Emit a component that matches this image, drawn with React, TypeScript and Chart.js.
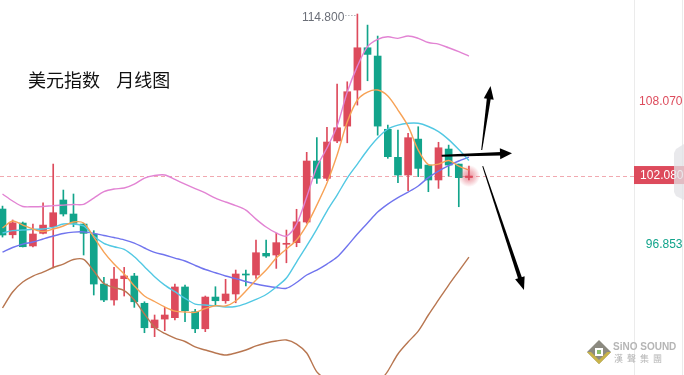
import React, { useEffect, useRef } from "react";
import { Chart, registerables } from "chart.js";

Chart.register(...registerables);

// ---- data (DXY monthly) ----
const months = [
  "2019-10", "2019-11", "2019-12", "2020-01", "2020-02", "2020-03", "2020-04", "2020-05", "2020-06", "2020-07",
  "2020-08", "2020-09", "2020-10", "2020-11", "2020-12", "2021-01", "2021-02", "2021-03", "2021-04", "2021-05",
  "2021-06", "2021-07", "2021-08", "2021-09", "2021-10", "2021-11", "2021-12", "2022-01", "2022-02", "2022-03",
  "2022-04", "2022-05", "2022-06", "2022-07", "2022-08", "2022-09", "2022-10", "2022-11", "2022-12", "2023-01",
  "2023-02", "2023-03", "2023-04", "2023-05", "2023-06", "2023-07", "2023-08",
];
const opens = [
  99.49, 97.47, 98.39, 96.59, 97.58, 98.1, 100.2, 99.1, 98.31, 97.53,
  93.6, 92.35, 94.02, 94.23, 92.09, 90.17, 90.85, 90.96, 93.37, 91.43,
  90.09, 92.58, 92.29, 92.82, 94.39, 94.31, 96.01, 95.88, 96.72, 96.85,
  98.47, 103.26, 101.9, 104.83, 106.0, 108.83, 112.15, 111.5, 105.75, 103.55,
  102.16, 104.98, 102.94, 101.77, 104.2, 103.02, 101.96,
];
const highs = [
  99.72, 98.63, 98.47, 98.31, 99.98, 103.02, 100.98, 100.67, 98.37, 97.79,
  94.13, 94.91, 94.91, 94.44, 92.21, 91.17, 91.77, 93.6, 93.52, 91.62,
  92.66, 93.39, 93.97, 94.7, 94.7, 97.06, 97.06, 97.58, 97.84, 99.47,
  103.94, 105.09, 105.9, 109.3, 109.48, 114.8, 113.93, 113.07, 106.08, 105.69,
  105.43, 105.95, 102.94, 104.73, 104.51, 103.02, 102.87,
];
const lows = [
  97.29, 97.21, 96.51, 96.51, 97.53, 94.86, 98.94, 98.1, 95.88, 92.74,
  92.21, 91.95, 92.66, 91.77, 89.78, 89.47, 89.94, 90.78, 90.64, 89.78,
  89.86, 91.95, 92.09, 92.13, 93.45, 94.05, 95.7, 94.83, 95.27, 96.53,
  98.37, 101.51, 101.71, 104.69, 104.69, 107.65, 109.56, 105.29, 103.47, 101.55,
  100.93, 102.03, 100.85, 101.11, 102.08, 99.67, 101.77,
];
const closes = [
  97.45, 98.41, 96.53, 97.53, 98.23, 99.2, 99.1, 98.37, 97.58, 93.6,
  92.35, 93.99, 94.23, 92.21, 90.17, 90.78, 91.17, 93.37, 91.51, 90.09,
  92.58, 92.29, 92.82, 94.39, 94.31, 96.06, 95.8, 96.85, 96.8, 98.49,
  103.26, 101.9, 104.75, 105.87, 108.7, 112.15, 111.63, 106.0, 103.6, 102.16,
  105.09, 102.68, 101.77, 104.3, 102.94, 101.95, 102.08,
];
const ma5 = [
  98.0, 98.55, 98.23, 97.92, 97.72, 97.92, 98.16, 98.47, 98.39, 97.29,
  96.11, 95.17, 94.39, 93.45, 92.66, 92.23, 91.8, 91.48, 91.41, 91.38,
  91.68, 91.9, 91.88, 92.27, 93.05, 93.92, 94.7, 95.64, 96.35, 97.06,
  98.23, 99.8, 101.53, 103.73, 106.32, 108.05, 108.67, 108.83, 108.36, 107.26,
  106.0, 104.12, 102.98, 103.02, 103.3, 102.86, 102.55,
];
const ma10 = [
  97.61, 97.79, 97.84, 97.9, 97.92, 98.05, 98.31, 98.31, 98.16, 97.37,
  96.8, 96.53, 96.33, 95.75, 94.96, 94.18, 93.52, 93.0, 92.48, 92.03,
  91.95, 91.9, 91.8, 91.84, 92.07, 92.39, 92.78, 93.37, 94.07, 95.33,
  96.59, 97.92, 99.33, 100.59, 101.92, 103.02, 104.12, 105.06, 105.77, 106.08,
  106.22, 106.22, 105.97, 105.57, 104.94, 104.16, 103.3,
];
const ma20 = [
  96.11, 96.47, 96.74, 96.9, 97.14, 97.37, 97.57, 97.68, 97.7, 97.58,
  97.41, 97.25, 97.07, 96.82, 96.43, 96.08, 95.88, 95.64, 95.41, 95.06,
  94.74, 94.49, 94.23, 94.03, 93.8, 93.6, 93.45, 93.33, 93.27, 93.72,
  94.31, 94.7, 95.17, 95.72, 96.59, 97.53, 98.39, 99.25, 99.88, 100.39,
  100.82, 101.3, 101.96, 102.47, 102.9, 103.26, 103.57,
];
const bollUpper = [
  100.67, 100.12, 99.69, 99.67, 99.69, 99.76, 99.8, 99.84, 99.86, 100.35,
  100.85, 101.06, 101.14, 101.45, 101.92, 102.12, 102.16, 101.81, 101.45, 101.1,
  100.75, 100.35, 100.04, 99.76, 99.41, 98.7, 98.08, 97.61, 97.37, 98.31,
  100.43, 102.79, 104.28, 106.0, 108.67, 110.71, 112.24, 112.81, 113.01, 112.89,
  113.07, 112.89, 112.56, 112.44, 112.15, 111.84, 111.5,
];
const bollLower = [
  91.72, 92.98, 93.76, 94.23, 94.54, 94.9, 95.17, 95.53, 95.54, 94.62,
  93.64, 93.33, 93.09, 92.35, 91.25, 90.23, 89.72, 89.36, 89.09, 88.66,
  88.42, 88.19, 88.03, 88.19, 88.42, 88.74, 88.97, 89.13, 89.21, 88.89,
  88.19, 86.7, 86.07, 85.6, 84.5, 84.34, 84.58, 85.68, 86.77, 88.11,
  89.05, 89.91, 91.17, 92.35, 93.52, 94.62, 95.72,
];
const axisLabels = [108.07, 102.08, 96.853];
const lastPrice = 102.08;
const titleText = "美元指数    月线图";
// arrows in data space: [fromIndex, fromPrice, toIndex, toPrice]
const arrowUp = [47.26, 104.12, 48.13, 109.14];
const arrowRight = [43.31, 103.67, 50.25, 103.86];
const arrowDown = [47.36, 102.86, 51.43, 93.13];

const UP = "#dd4b5c";
const DOWN = "#12a48b";

function drawArrow(ctx: CanvasRenderingContext2D, x1: number, y1: number, x2: number, y2: number, w0: number, w1: number, headLen: number, headHalf: number) {
  const dx = x2 - x1, dy = y2 - y1;
  const len = Math.hypot(dx, dy);
  const ang = Math.atan2(dy, dx);
  ctx.save();
  ctx.translate(x1, y1);
  ctx.rotate(ang);
  ctx.fillStyle = "#000";
  const se = len - headLen + 1;
  ctx.beginPath();
  ctx.moveTo(0, -w0 / 2);
  ctx.lineTo(se, -w1 / 2);
  ctx.lineTo(se, w1 / 2);
  ctx.lineTo(0, w0 / 2);
  ctx.closePath();
  ctx.fill();
  ctx.beginPath();
  ctx.moveTo(len - headLen, -headHalf);
  ctx.lineTo(len, 0);
  ctx.lineTo(len - headLen, headHalf);
  ctx.closePath();
  ctx.fill();
  ctx.restore();
}

const overlay = {
  id: "overlay",
  beforeDatasetsDraw(chart: any) {
    const { ctx, chartArea } = chart;
    const ys = chart.scales.y;
    const py = Math.round(ys.getPixelForValue(lastPrice)) + 0.5;
    ctx.save();
    ctx.strokeStyle = "rgba(236,140,150,0.75)";
    ctx.lineWidth = 1;
    ctx.setLineDash([4, 3]);
    ctx.beginPath();
    ctx.moveTo(chartArea.left, py);
    ctx.lineTo(chartArea.right, py);
    ctx.stroke();
    ctx.restore();
  },
  afterDatasetsDraw(chart: any) {
    const { ctx, chartArea } = chart;
    const xs = chart.scales.x;
    const ys = chart.scales.y;
    const W = chart.width;
    const H = chart.height;
    ctx.save();
    // right axis borders
    ctx.strokeStyle = "#ebebeb";
    ctx.lineWidth = 1;
    ctx.beginPath();
    ctx.moveTo(chartArea.right + 0.5, 0);
    ctx.lineTo(chartArea.right + 0.5, H);
    ctx.moveTo(W - 1.5, 0);
    ctx.lineTo(W - 1.5, H);
    ctx.stroke();

    // glow on last candle
    const li = closes.length - 1;
    const gx = xs.getPixelForValue(li);
    const gy = ys.getPixelForValue(closes[li]);
    const g = ctx.createRadialGradient(gx, gy, 0, gx, gy, 11);
    g.addColorStop(0, "rgba(221,75,92,0.6)");
    g.addColorStop(0.5, "rgba(221,75,92,0.35)");
    g.addColorStop(1, "rgba(221,75,92,0)");
    ctx.fillStyle = g;
    ctx.beginPath();
    ctx.arc(gx, gy, 11, 0, Math.PI * 2);
    ctx.fill();

    // title
    ctx.fillStyle = "#111";
    ctx.font = "18px 'Noto Sans CJK SC', sans-serif";
    ctx.textBaseline = "middle";
    ctx.textAlign = "left";
    ctx.fillText(titleText, 28, 80);

    // high label
    let hi = 0;
    for (let i = 1; i < highs.length; i++) if (highs[i] > highs[hi]) hi = i;
    const hx = xs.getPixelForValue(hi);
    const hy = ys.getPixelForValue(highs[hi]);
    ctx.font = "12px 'Liberation Sans', Arial, sans-serif";
    ctx.fillStyle = "#6b6f78";
    ctx.textAlign = "right";
    ctx.fillText(highs[hi].toFixed(3), hx - 13, hy + 4);
    ctx.strokeStyle = "#8a8e96";
    ctx.setLineDash([1, 2]);
    ctx.beginPath();
    ctx.moveTo(hx - 12, hy + 1.5);
    ctx.lineTo(hx, hy + 1.5);
    ctx.stroke();
    ctx.setLineDash([]);

    // arrows
    const toPx = (a: number[]) => [xs.getPixelForValue(a[0]), ys.getPixelForValue(a[1]), xs.getPixelForValue(a[2]), ys.getPixelForValue(a[3])];
    let p = toPx(arrowRight);
    drawArrow(ctx, p[0], p[1], p[2], p[3], 2, 3.5, 12, 5.5);
    p = toPx(arrowUp);
    drawArrow(ctx, p[0], p[1], p[2], p[3], 1, 4, 13, 5);
    p = toPx(arrowDown);
    drawArrow(ctx, p[0], p[1], p[2], p[3], 1, 4, 13, 5);

    // right labels
    ctx.font = "12px 'Liberation Sans', Arial, sans-serif";
    ctx.textAlign = "right";
    ctx.textBaseline = "middle";
    axisLabels.forEach((v) => {
      const y = ys.getPixelForValue(v);
      const txt = v.toFixed(3);
      if (v === lastPrice) {
        ctx.fillStyle = UP;
        ctx.fillRect(chartArea.right, y - 10, W - chartArea.right, 18);
        ctx.fillStyle = "#fff";
        ctx.fillText(txt, W - 0.5, y);
      } else {
        ctx.fillStyle = v > lastPrice ? UP : DOWN;
        ctx.fillText(txt, W - 1.5, y + 2);
      }
    });

    // side tab
    ctx.fillStyle = "rgba(226,226,230,0.75)";
    ctx.beginPath();
    ctx.moveTo(W, 144);
    ctx.lineTo(676, 149);
    ctx.lineTo(674, 153);
    ctx.lineTo(674, 192);
    ctx.lineTo(676, 196);
    ctx.lineTo(W, 200);
    ctx.closePath();
    ctx.fill();

    // watermark
    const cx = 599, cy = 352;
    ctx.fillStyle = "#8c8a80";
    ctx.beginPath();
    ctx.moveTo(cx, cy - 12); ctx.lineTo(cx + 12, cy); ctx.lineTo(cx, cy + 12); ctx.lineTo(cx - 12, cy); ctx.closePath();
    ctx.fill();
    ctx.fillStyle = "#c9b449";
    ctx.beginPath();
    ctx.moveTo(cx - 12, cy); ctx.lineTo(cx, cy + 12); ctx.lineTo(cx + 12, cy); ctx.lineTo(cx + 8, cy); ctx.lineTo(cx, cy + 8); ctx.lineTo(cx - 8, cy); ctx.closePath();
    ctx.fill();
    ctx.fillStyle = "#fff";
    ctx.fillRect(cx - 4, cy - 4, 8, 8);
    ctx.fillStyle = "#8bbf6a";
    ctx.fillRect(cx - 2, cy - 2, 4, 4);
    ctx.fillStyle = "#b5b5b5";
    ctx.textAlign = "left";
    ctx.font = "bold 10px 'Liberation Sans', Arial, sans-serif";
    ctx.fillText("SiNO SOUND", 613, 347);
    ctx.font = "9px 'Noto Sans CJK TC', sans-serif";
    ctx.fillText("漢  聲  集  團", 614, 359);
    ctx.restore();
  },
};

export default function App() {
  const ref = useRef<HTMLCanvasElement>(null);
  useEffect(() => {
    document.body.style.margin = "0";
    const canvas = ref.current!;
    const colors = opens.map((o, i) => (closes[i] >= o ? UP : DOWN));
    const line = (label: string, vals: number[], color: string) => ({
      type: "line" as const,
      label,
      data: vals.map((v, i) => ({ x: i, y: v })),
      borderColor: color,
      borderWidth: 1.4,
      pointRadius: 0,
      tension: 0.3,
      order: 0,
    });
    const chart = new Chart(canvas, {
      type: "bar",
      data: {
        datasets: [
          line("MA5", ma5, "#f7a256"),
          line("MA10", ma10, "#52c8e3"),
          line("MID", ma20, "#7074ee"),
          line("UPPER", bollUpper, "#e283d3"),
          line("LOWER", bollLower, "#b87650"),
          {
            type: "bar",
            label: "body",
            data: months.map((_, i) => ({ x: i, y: [opens[i], closes[i]] })) as any,
            backgroundColor: colors,
            barThickness: 7,
            minBarLength: 1,
            grouped: false,
            order: 1,
          } as any,
          {
            type: "bar",
            label: "wick",
            data: months.map((_, i) => ({ x: i, y: [lows[i], highs[i]] })) as any,
            backgroundColor: colors,
            barThickness: 1,
            grouped: false,
            order: 2,
          } as any,
        ],
      },
      options: {
        responsive: false,
        animation: false,
        devicePixelRatio: 1,
        layout: { padding: { left: 0, right: 50, top: 0, bottom: 0 } },
        plugins: { legend: { display: false }, tooltip: { enabled: false } },
        scales: {
          x: { type: "linear", min: -0.247, max: 62.28, offset: false, display: false },
          y: { type: "linear", min: 86.46, max: 115.9, display: false },
        },
      } as any,
      plugins: [overlay],
    });
    return () => chart.destroy();
  }, []);
  return (
    <div style={{ width: 684, height: 375, background: "#fff" }}>
      <canvas ref={ref} width={684} height={375} style={{ display: "block" }} />
    </div>
  );
}
